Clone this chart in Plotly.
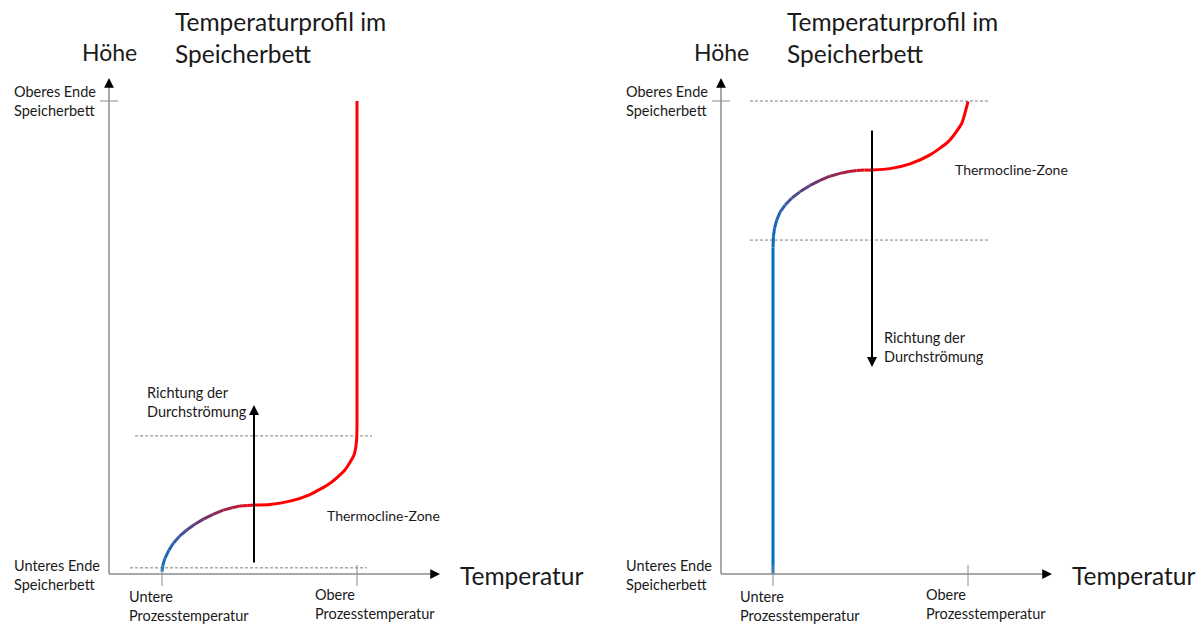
import plotly.graph_objects as go

# ---------------- data (normalized: temperature 0 = untere, 1 = obere; height 0 = unten, 1 = oben)
# Left panel: charging from below
left_grad_T = [0.0, 0.004, 0.015, 0.035, 0.058, 0.09, 0.127, 0.168, 0.212, 0.262, 0.314, 0.36, 0.4, 0.44, 0.473]
left_grad_H = [0.005, 0.018, 0.033, 0.050, 0.065, 0.080, 0.093, 0.105, 0.116, 0.126, 0.135, 0.140, 0.144, 0.145, 0.146]
left_red_T = [0.473, 0.554, 0.656, 0.759, 0.862, 0.938, 0.985, 0.998, 1.0, 1.0]
left_red_H = [0.146, 0.147, 0.154, 0.168, 0.192, 0.220, 0.252, 0.283, 0.315, 1.0]
left_zone_H = [0.013, 0.292]
left_zone_T = [[-0.164, 1.05], [-0.138, 1.077]]

# Right panel: discharging from above
right_blue_T = [0.0, 0.0]
right_blue_H = [0.0, 0.690]
right_grad_T = [0.0, 0.002, 0.008, 0.019, 0.036, 0.062, 0.097, 0.138, 0.188, 0.241, 0.292, 0.344, 0.39, 0.429, 0.470, 0.506]
right_grad_H = [0.690, 0.713, 0.731, 0.748, 0.765, 0.780, 0.795, 0.808, 0.821, 0.832, 0.841, 0.847, 0.851, 0.853, 0.854, 0.854]
right_red_T = [0.506, 0.6, 0.703, 0.805, 0.899, 0.968, 1.0]
right_red_H = [0.854, 0.857, 0.867, 0.886, 0.914, 0.953, 0.999]
right_zone_H = [0.706, 1.0]
right_zone_T = [[-0.118, 1.103], [-0.118, 1.103]]

x_tick_labels = ["Untere<br>Prozesstemperatur", "Obere<br>Prozesstemperatur"]
y_tick_labels = ["Unteres Ende<br>Speicherbett", "Oberes Ende<br>Speicherbett"]
title_text = "Temperaturprofil im<br>Speicherbett"
y_title = "Höhe"
x_title = "Temperatur"
flow_text = "Richtung der<br>Durchströmung"
zone_text = "Thermocline-Zone"

# ---------------- figure geometry
W, H = 1202, 624
PXT = 195.0   # px per temperature unit
PXH = 473.0   # px per height unit
Y0 = 574.0    # pixel row of height 0
LX0, RX0 = 162.0, 773.0

FONT = "Lato, Calibri, Carlito, sans-serif"
BLUE = (0, 112, 192)
RED = (255, 0, 0)
AXIS_GRAY = "#8c8c8c"
TXT = "#1a1a1a"


def grad_color(f):
    stops = [(0.0, BLUE), (0.3, (50, 95, 170)), (0.6, (115, 50, 105)), (0.85, (195, 22, 50)), (1.0, RED)]
    for (f0, c0), (f1, c1) in zip(stops[:-1], stops[1:]):
        if f <= f1:
            t = (f - f0) / (f1 - f0)
            c = [round(a + (b - a) * t) for a, b in zip(c0, c1)]
            return "rgb(%d,%d,%d)" % tuple(c)
    return "rgb(255,0,0)"


fig = go.Figure()


def add_gradient(T, Hh, xa, ya):
    n = len(T) - 1
    for i in range(n):
        f = (i + 0.5) / n
        fig.add_trace(go.Scatter(x=T[i:i + 2], y=Hh[i:i + 2], mode="lines",
                                 line=dict(color=grad_color(f), width=3),
                                 xaxis=xa, yaxis=ya, hoverinfo="skip", showlegend=False))


def add_line(T, Hh, color, xa, ya, shape="spline"):
    fig.add_trace(go.Scatter(x=T, y=Hh, mode="lines",
                             line=dict(color=color, width=3, shape=shape, smoothing=0.6),
                             xaxis=xa, yaxis=ya, hoverinfo="skip", showlegend=False))


def add_zone(Ts, Hs, xa, ya):
    for t, h in zip(Ts, Hs):
        fig.add_trace(go.Scatter(x=t, y=[h, h], mode="lines",
                                 line=dict(color="#7f7f7f", width=1, dash="3px,2px"),
                                 xaxis=xa, yaxis=ya, hoverinfo="skip", showlegend=False))


# left panel
add_zone(left_zone_T, left_zone_H, "x", "y")
add_gradient(left_grad_T, left_grad_H, "x", "y")
add_line(left_red_T, left_red_H, "rgb(255,0,0)", "x", "y")
# right panel
add_zone(right_zone_T, right_zone_H, "x2", "y2")
add_line(right_blue_T, right_blue_H, "rgb(0,112,192)", "x2", "y2", shape="linear")
add_gradient(right_grad_T, right_grad_H, "x2", "y2")
add_line(right_red_T, right_red_H, "rgb(255,0,0)", "x2", "y2")

ax_common = dict(visible=False, showgrid=False, zeroline=False, fixedrange=True)
yrange = [(Y0 - H) / PXH, Y0 / PXH]
fig.update_layout(
    width=W, height=H, autosize=False,
    margin=dict(l=0, r=0, t=0, b=0, pad=0),
    paper_bgcolor="white", plot_bgcolor="white",
    xaxis=dict(domain=[0, 0.5], range=[(0 - LX0) / PXT, (601 - LX0) / PXT], **ax_common),
    xaxis2=dict(domain=[0.5, 1], range=[(601 - RX0) / PXT, (W - RX0) / PXT], **ax_common),
    yaxis=dict(domain=[0, 1], range=yrange, anchor="x", **ax_common),
    yaxis2=dict(domain=[0, 1], range=yrange, anchor="x2", **ax_common),
    showlegend=False,
)


def P(px, py):
    return px / W, 1 - py / H


shapes = []
annos = []


def seg(x0, y0, x1, y1, color=AXIS_GRAY, width=1.5):
    a, b = P(x0, y0)
    c, d = P(x1, y1)
    shapes.append(dict(type="line", xref="paper", yref="paper", x0=a, y0=b, x1=c, y1=d,
                       line=dict(color=color, width=width)))


def arrowhead(px, py, dx, dy, color="black", width=1.5, size=1.3, head=2):
    x, y = P(px, py)
    annos.append(dict(x=x, y=y, xref="paper", yref="paper", ax=dx, ay=dy, axref="pixel", ayref="pixel",
                      text="", showarrow=True, arrowhead=head, arrowsize=size, arrowwidth=width,
                      arrowcolor=color))


def text(px, py, s, size=14.5, color=TXT):
    x, y = P(px, py)
    annos.append(dict(x=x, y=y, xref="paper", yref="paper", text=s, showarrow=False,
                      xanchor="left", yanchor="middle", align="left",
                      font=dict(family=FONT, size=size, color=color)))


for ox, tx0 in [(109, LX0), (721, RX0)]:
    # axes
    seg(ox, Y0, ox + 325, Y0)
    seg(ox, Y0, ox, 86)
    arrowhead(ox + 331, Y0, -9, 0)
    arrowhead(ox, 78, 0, 9)
    # ticks
    for t in [0, 1]:
        xx = tx0 + t * PXT
        seg(xx, 565, xx, 586, width=1)
    seg(ox - 9, Y0 - PXH, ox + 9, Y0 - PXH, width=1)
    # labels
    text(ox - 97, Y0 + 1, y_tick_labels[0])
    text(ox - 97, Y0 - PXH, y_tick_labels[1])
    text(tx0 - 35, 606, x_tick_labels[0])
    text(tx0 + PXT - 44, 604, x_tick_labels[1])
    text(ox + 64, 37, title_text, size=24.5)
    text(ox - 29, 52, y_title, size=23)
    text(ox + 349, Y0 + 1, x_title, size=24.5)

# flow arrows (left: upwards, right: downwards)
arrowhead(254, 405, 0, 159, width=2, size=1.0)
arrowhead(872, 367, 0, -238, width=2, size=1.0)
text(145, 402, flow_text)
text(882, 347, flow_text)
text(325, 515, zone_text, size=14)
text(953, 170, zone_text, size=14)

fig.update_layout(shapes=shapes, annotations=annos)
fig.write_html("out.html", config={"displayModeBar": False},
               post_script="document.body.style.margin='0';document.body.style.padding='0';"
                           "document.body.style.overflow='hidden';")
